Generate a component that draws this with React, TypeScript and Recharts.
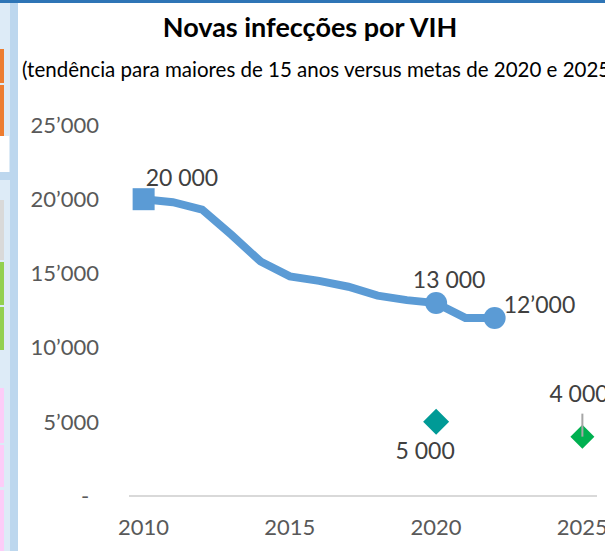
import { ComposedChart, Line, XAxis, YAxis, LabelList } from 'recharts'

const trendYears = [2010, 2011, 2012, 2013, 2014, 2015, 2016, 2017, 2018, 2019, 2020, 2021, 2022]
const trendValues = [20000, 19800, 19300, 17600, 15800, 14800, 14500, 14100, 13500, 13200, 13000, 12000, 12000]
const trendLabels = ['20 000', '', '', '', '', '', '', '', '', '', '13 000', '', '12’000']
const trendMarkers = ['square', '', '', '', '', '', '', '', '', '', 'circle', '', 'circle']

const targetYears = [2020, 2025]
const targetValues = [5000, 4000]
const targetLabels = ['5 000', '4 000']

const xTicks = [2010, 2015, 2020, 2025]
const yTicks = [0, 5000, 10000, 15000, 20000, 25000]

const BLUE = '#5b9bd5'
const TARGET_COLORS: Record<number, string> = { 2020: '#009a96', 2025: '#00b050' }
const FONT = 'Lato, "Open Sans", sans-serif'

// label placement relative to the point
const TREND_LABEL_POS: Record<number, { dx: number; dy: number; anchor: string }> = {
  2010: { dx: 2, dy: -21, anchor: 'start' },
  2020: { dx: 13, dy: -23, anchor: 'middle' },
  2022: { dx: 9, dy: -13, anchor: 'start' },
}
const TARGET_LABEL_POS: Record<number, { dx: number; dy: number; anchor: string; leader?: boolean }> = {
  2020: { dx: -11, dy: 29, anchor: 'middle' },
  2025: { dx: -33, dy: -43, anchor: 'start', leader: true },
}

const allYears = Array.from(new Set([...trendYears, ...targetYears])).sort((a, b) => a - b)
const data = allYears.map((year) => {
  const ti = trendYears.indexOf(year)
  const gi = targetYears.indexOf(year)
  return {
    year,
    trend: ti >= 0 ? trendValues[ti] : null,
    trendLabel: ti >= 0 ? trendLabels[ti] : '',
    marker: ti >= 0 ? trendMarkers[ti] : '',
    target: gi >= 0 ? targetValues[gi] : null,
    targetLabel: gi >= 0 ? targetLabels[gi] : '',
  }
})

const fmtY = (v: number) => String(v).replace(/\B(?=(\d{3})+(?!\d))/g, '’')

function YTick({ x, y, payload }: any) {
  if (payload.value === 0) {
    return (
      <text x={x - 44} y={y} dy="0.35em" textAnchor="middle" fontSize={22} fontFamily={FONT} fill="#595959">
        -
      </text>
    )
  }
  return (
    <text x={x - 30} y={y} dy="0.35em" textAnchor="end" fontSize={22} fontFamily={FONT} fill="#595959">
      {fmtY(payload.value)}
    </text>
  )
}

function XTick({ x, y, payload }: any) {
  return (
    <text x={x} y={y + 31} dy="0.35em" textAnchor="middle" fontSize={22} fontFamily={FONT} fill="#595959">
      {payload.value}
    </text>
  )
}

function TrendDot({ cx, cy, payload }: any) {
  if (cx == null || cy == null || !payload.marker) return <g />
  if (payload.marker === 'square') {
    return <rect x={cx - 11} y={cy - 11} width={22} height={22} fill={BLUE} />
  }
  return <circle cx={cx} cy={cy} r={11} fill={BLUE} />
}

function TargetDot({ cx, cy, payload }: any) {
  if (cx == null || cy == null || payload.target == null) return <g />
  const r = payload.year === 2020 ? 13 : 12
  return (
    <polygon
      points={`${cx},${cy - r} ${cx + r},${cy} ${cx},${cy + r} ${cx - r},${cy}`}
      fill={TARGET_COLORS[payload.year]}
    />
  )
}

function TrendLabel({ x, y, value, index }: any) {
  if (!value) return null
  const pos = TREND_LABEL_POS[data[index].year]
  if (!pos) return null
  return (
    <text x={x + pos.dx} y={y + pos.dy} dy="0.35em" textAnchor={pos.anchor} fontSize={23} fontFamily={FONT} fill="#404040">
      {value}
    </text>
  )
}

function TargetLabel({ x, y, value, index }: any) {
  if (!value) return null
  const pos = TARGET_LABEL_POS[data[index].year]
  if (!pos) return null
  return (
    <g>
      {pos.leader && <line x1={x} y1={y - 23} x2={x} y2={y} stroke="#a6a6a6" strokeWidth={2} />}
      <text x={x + pos.dx} y={y + pos.dy} dy="0.35em" textAnchor={pos.anchor} fontSize={23} fontFamily={FONT} fill="#404040">
        {value}
      </text>
    </g>
  )
}

export default function App() {
  return (
    <div style={{ position: 'absolute', left: 0, top: 0, width: 605, height: 551, background: '#fff', overflow: 'hidden' }}>
      {/* dashboard edges around the chart */}
      <div style={{ position: 'absolute', left: 0, top: 0, width: 605, height: 3, background: '#2e75b6' }} />
      <div style={{ position: 'absolute', left: 0, top: 3, width: 10, height: 548, background: '#ddebf7' }} />
      <div style={{ position: 'absolute', left: 10, top: 3, width: 8, height: 548, background: '#bdd7ee' }} />
      <div style={{ position: 'absolute', left: 0, top: 49, width: 4, height: 34, background: '#ed7d31' }} />
      <div style={{ position: 'absolute', left: 0, top: 85, width: 4, height: 51, background: '#ed7d31' }} />
      <div style={{ position: 'absolute', left: 0, top: 136, width: 9, height: 36, background: '#fff' }} />
      <div style={{ position: 'absolute', left: 0, top: 172, width: 10, height: 8, background: '#bdd7ee' }} />
      <div style={{ position: 'absolute', left: 0, top: 200, width: 4, height: 60, background: '#d9d9d9' }} />
      <div style={{ position: 'absolute', left: 0, top: 262, width: 4, height: 43, background: '#92d050' }} />
      <div style={{ position: 'absolute', left: 0, top: 307, width: 4, height: 43, background: '#92d050' }} />
      <div style={{ position: 'absolute', left: 0, top: 388, width: 4, height: 55, background: '#fccdf8' }} />
      <div style={{ position: 'absolute', left: 0, top: 445, width: 4, height: 42, background: '#fccdf8' }} />
      <div style={{ position: 'absolute', left: 0, top: 490, width: 4, height: 61, background: '#fccdf8' }} />

      <div style={{ position: 'absolute', left: 0, top: 10, width: 620, textAlign: 'center', fontFamily: FONT, fontWeight: 700, fontSize: 27, color: '#000', whiteSpace: 'nowrap' }}>
        Novas infecções por VIH
      </div>
      <div style={{ position: 'absolute', left: 22, top: 57, fontFamily: FONT, fontSize: 20.5, color: '#000', whiteSpace: 'nowrap' }}>
        (tendência para maiores de 15 anos versus metas de 2020 e 2025)
      </div>

      <div style={{ position: 'absolute', left: 0, top: 0 }}>
        <ComposedChart width={605} height={551} data={data} margin={{ top: 125, right: 8, bottom: 0, left: 0 }}>
          <XAxis
            dataKey="year"
            type="number"
            domain={[2009.5, 2025.5]}
            ticks={xTicks}
            tick={<XTick />}
            tickLine={false}
            tickSize={0}
            tickMargin={0}
            height={55}
            stroke="#d9d9d9"
            strokeWidth={2}
          />
          <YAxis
            type="number"
            domain={[0, 25000]}
            ticks={yTicks}
            tick={<YTick />}
            axisLine={false}
            tickLine={false}
            tickSize={0}
            tickMargin={0}
            width={129}
          />
          <Line
            dataKey="trend"
            stroke={BLUE}
            strokeWidth={8}
            strokeLinejoin="miter"
            dot={<TrendDot />}
            activeDot={false}
            isAnimationActive={false}
          >
            <LabelList dataKey="trendLabel" content={<TrendLabel />} />
          </Line>
          <Line
            dataKey="target"
            stroke="none"
            dot={<TargetDot />}
            activeDot={false}
            isAnimationActive={false}
          >
            <LabelList dataKey="targetLabel" content={<TargetLabel />} />
          </Line>
        </ComposedChart>
      </div>
    </div>
  )
}
